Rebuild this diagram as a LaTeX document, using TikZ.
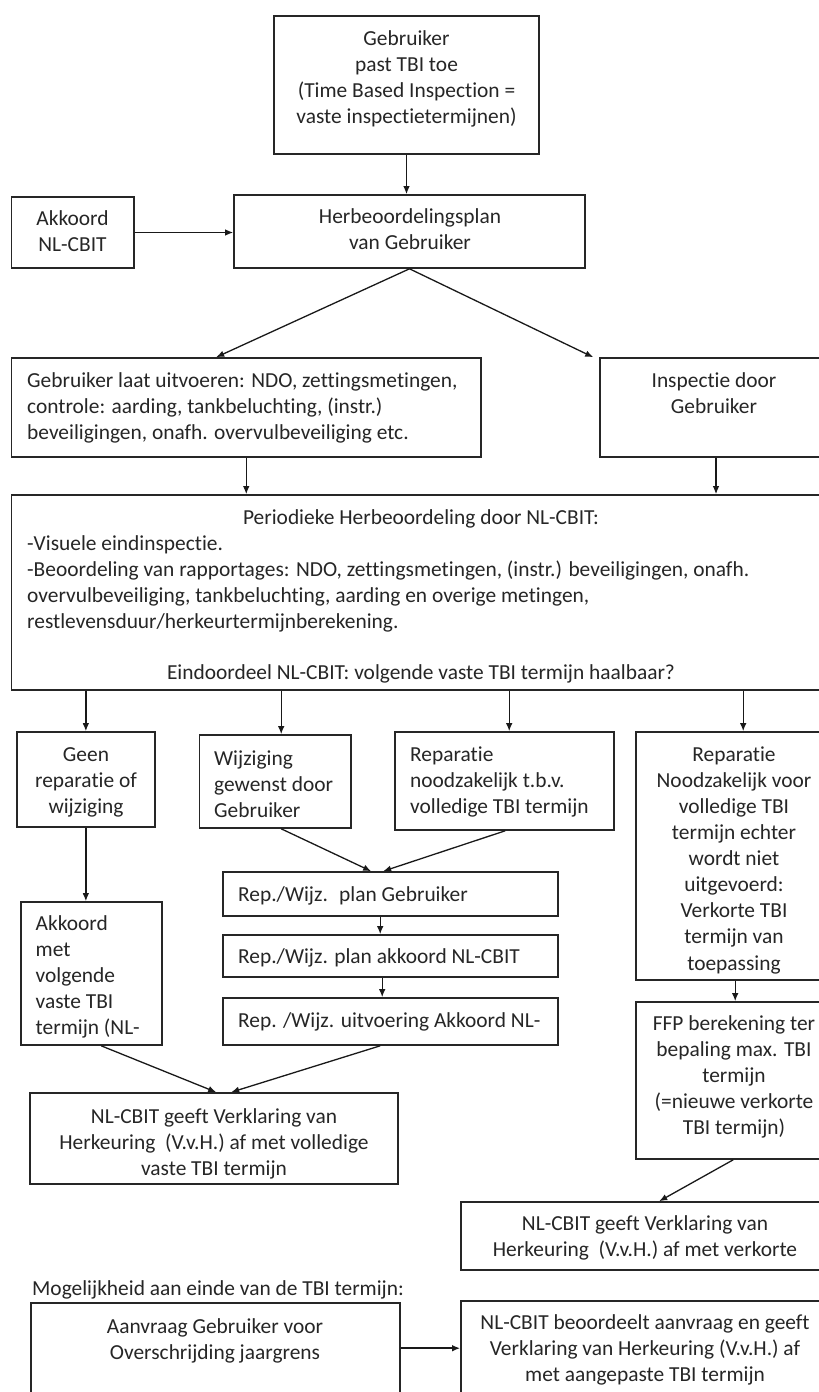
\documentclass[tikz,border=0pt]{standalone}
\usepackage{fontspec}
\setmainfont{Carlito}[Ligatures=NoCommon]
\usetikzlibrary{arrows.meta,fit,calc}
\newcommand\bx[5]{\node[box, fit={(#2,#3) (#4,#5)}] (#1) {};}
\newcommand\strt{\rule{0pt}{16pt}}
\begin{document}
\begin{tikzpicture}[x=1pt,y=-1pt,
  box/.style={draw=black!85, line width=1.6pt, inner sep=0pt},
  txt/.style={inner sep=0pt, font=\fontsize{21.4}{26.1}\selectfont, text=black!85},
  arr/.style={draw=black!90, line width=1.3pt, -{Latex[length=8pt,width=6.5pt]}},
]
\useasboundingbox (0,0) rectangle (819,1392);
\clip (0,0) rectangle (819,1392);
\fill[white] (0,0) rectangle (819,1392);

% boxes
\bx{top}{274}{16}{539}{154}
\bx{akk}{11.5}{197}{134}{268}
\bx{herb}{234}{195}{585}{268}
\bx{uitv}{11.5}{358}{481}{457}
\bx{insp}{600}{358}{832}{457}
\bx{per}{11.5}{495}{832}{690}
\bx{geen}{16.7}{732}{155}{827}
\bx{wijz}{199.5}{735}{351}{828}
\bx{repn}{395}{732}{614}{830}
\bx{repr}{636}{732}{832}{980}
\bx{akm}{21}{902}{162}{1045}
\bx{rpa}{223}{872}{558}{916}
\bx{rpb}{223}{935}{558}{977}
\bx{rpc}{223}{998}{558}{1045}
\bx{ffp}{636}{1002}{832}{1159}
\bx{vvha}{30}{1093}{398}{1184}
\bx{vvhb}{461}{1202}{832}{1270}
\bx{aanv}{31}{1303}{400}{1420}
\bx{beo}{461}{1301}{832}{1420}

% texts
\node[txt,align=center,anchor=north] (ttop) at (406.5,29) {\strt Gebruiker\\past TBI toe\\(Time Based Inspection =\\vaste inspectietermijnen)};
\node[txt,align=center,anchor=north] (takk) at (72.5,209) {\strt Akkoord\\NL-CBIT};
\node[txt,align=center,anchor=north] (therb) at (410,207) {\strt Herbeoordelingsplan\\van Gebruiker};
\node[txt,align=left,anchor=north west] (tuitv) at (27,371) {\strt Gebruiker laat uitvoeren: NDO, zettingsmetingen,\\controle: aarding, tankbeluchting, (instr.)\\beveiligingen, onafh. overvulbeveiliging etc.};
\node[txt,align=center,anchor=north] (tinsp) at (714,371) {\strt Inspectie door\\Gebruiker};
\node[txt,align=center,anchor=north] (tper) at (421,508) {\strt Periodieke Herbeoordeling door NL-CBIT:};
\node[txt,align=left,anchor=north west] (tpert) at (27,534) {\strt -Visuele eindinspectie.\\-Beoordeling van rapportages: NDO, zettingsmetingen, (instr.) beveiligingen, onafh.\\overvulbeveiliging, tankbeluchting, aarding en overige metingen,\\restlevensduur/herkeurtermijnberekening.};
\node[txt,align=center,anchor=north] (tein) at (421,663) {\strt Eindoordeel NL-CBIT: volgende vaste TBI termijn haalbaar?};
\node[txt,align=center,anchor=north] (tgeen) at (86,745) {\strt Geen\\reparatie of\\wijziging};
\node[txt,align=left,anchor=north west] (twijz) at (214,749) {\strt Wijziging\\gewenst door\\Gebruiker};
\node[txt,align=left,anchor=north west] (trepn) at (410,745) {\strt Reparatie\\noodzakelijk t.b.v.\\volledige TBI termijn};
\node[txt,align=center,anchor=north] (trepr) at (734,745) {\strt Reparatie\\Noodzakelijk voor\\volledige TBI\\termijn echter\\wordt niet\\uitgevoerd:\\Verkorte TBI\\termijn van\\toepassing};
\node[txt,align=left,anchor=north west] (takm) at (35.5,914) {\strt Akkoord\\met\\volgende\\vaste TBI\\termijn (NL-};
\node[txt,align=left,anchor=north west] (trpa) at (238,885) {\strt Rep./Wijz.~ plan Gebruiker};
\node[txt,align=left,anchor=north west] (trpb) at (238,947) {\strt Rep./Wijz. plan akkoord NL-CBIT};
\node[txt,align=left,anchor=north west] (trpc) at (238,1011) {\strt Rep. /Wijz. uitvoering Akkoord NL-};
\node[txt,align=center,anchor=north] (tffp) at (734,1014) {\strt FFP berekening ter\\bepaling max. TBI\\termijn\\(=nieuwe verkorte\\TBI termijn)};
\node[txt,align=center,anchor=north] (tvvha) at (214,1107) {\strt NL-CBIT geeft Verklaring van\\Herkeuring~ (V.v.H.) af met volledige\\vaste TBI termijn};
\node[txt,align=center,anchor=north] (tvvhb) at (645,1214) {\strt NL-CBIT geeft Verklaring van\\Herkeuring~ (V.v.H.) af met verkorte};
\node[txt,align=left,anchor=north west] (tmog) at (32,1279) {\strt Mogelijkheid aan einde van de TBI termijn:};
\node[txt,align=center,anchor=north] (taanv) at (215,1317) {\strt Aanvraag Gebruiker voor\\Overschrijding jaargrens};
\node[txt,align=center,anchor=north] (tbeo) at (645,1313) {\strt NL-CBIT beoordeelt aanvraag en geeft\\Verklaring van Herkeuring (V.v.H.) af\\met aangepaste TBI termijn};

% connectors
\draw[arr] (top.south) -- (top.south |- herb.north);
\draw[arr] (akk.east) -- (akk.east -| herb.west);
\draw[arr] (herb.south) -- ($(uitv.north west)+(205.5,0)$);
\draw[arr] (herb.south) -- ($(insp.north west)+(-6,0)$);
\draw[arr] (uitv.south) -- (uitv.south |- per.north);
\draw[arr] (insp.south) -- (insp.south |- per.north);
\draw[arr] (geen.north |- per.south) -- (geen.north);
\draw[arr] ($(per.south west)+(270.5,0)$) -- ($(wijz.north west)+(82.5,0)$);
\draw[arr] ($(per.south west)+(498.5,0)$) -- ($(repn.north west)+(115,0)$);
\draw[arr] ($(per.south west)+(732.5,0)$) -- ($(repr.north west)+(108,0)$);
\draw[arr] (geen.south) -- (geen.south |- akm.north);
\draw[arr] ($(wijz.south west)+(82.5,0)$) -- ($(rpa.north west)+(149,0)$);
\draw[arr] ($(repn.south west)+(111,0)$) -- ($(rpa.north west)+(161,0)$);
\draw[arr] ($(rpa.south west)+(158,0)$) -- ($(rpb.north west)+(158,0)$);
\draw[arr] ($(rpb.south west)+(160,0)$) -- ($(rpc.north west)+(160,0)$);
\draw[arr] ($(repr.south west)+(100,0)$) -- ($(ffp.north west)+(100,0)$);
\draw[arr] ($(akm.south west)+(81,0)$) -- ($(vvha.north west)+(187,0)$);
\draw[arr] ($(rpc.south west)+(158,0)$) -- ($(vvha.north west)+(202,0)$);
\draw[arr] ($(ffp.south west)+(98,0)$) -- ($(vvhb.north west)+(199,0)$);
\draw[arr, line width=2pt] ($(aanv.north east)+(0,46)$) -- ($(beo.north west)+(0,48)$);
\end{tikzpicture}
\end{document}
